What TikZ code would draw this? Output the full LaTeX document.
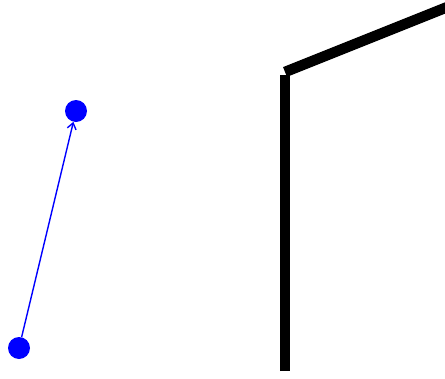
\documentclass[tikz,border=0pt]{standalone}
\usetikzlibrary{arrows.meta}
\begin{document}
\begin{tikzpicture}[x=1pt,y=-1pt,
  dot/.style={circle,fill=blue,inner sep=0pt,minimum size=22pt},
  conn/.style={draw=blue,line width=1.4pt,-{Straight Barb[length=6pt,width=9pt]}},
  wall/.style={line width=10.5pt,line cap=butt}]
\useasboundingbox (0,0) rectangle (445,378);
\node[dot] (top) at (76,111) {};
\node[dot] (bot) at (19,348) {};
\draw[conn] (bot) -- (top);
\coordinate (w1) at (285,371);
\coordinate (w2) at (285,75);
\coordinate (w3) at (285,72);
\coordinate (w4) at (450,6);
\draw[wall] (w1) -- (w2);
\draw[wall] (w3) -- (w4);
\end{tikzpicture}
\end{document}
